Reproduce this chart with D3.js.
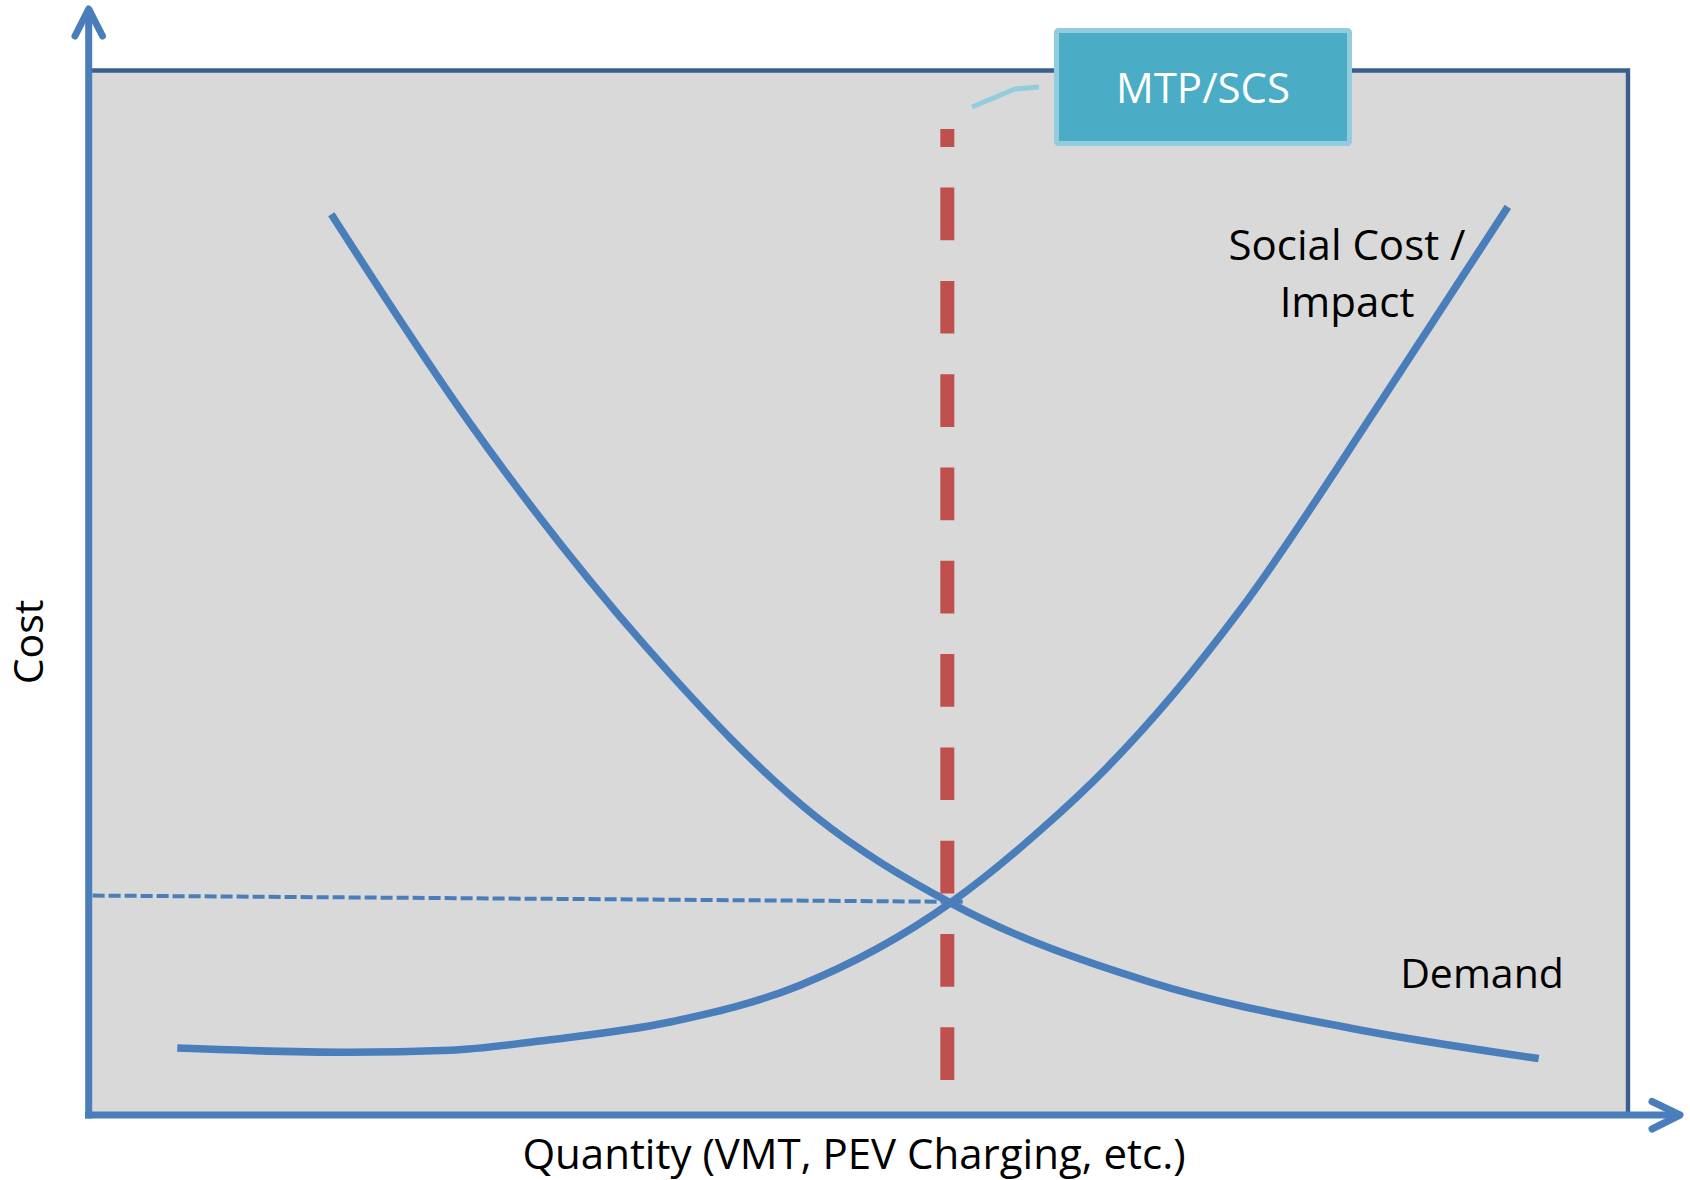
<!DOCTYPE html>
<html>
    <head>
        <script src="https://d3js.org/d3.v7.min.js"></script>
        <style type="text/css">
            html, body {
                margin: 0;
                padding: 0;
                background: #fff;
            }
            svg text {
                font-family: "Open Sans", "Noto Sans", sans-serif;
            }
        </style>
    </head>
    <body>
        <div id="chart"></div>
        <script>
            // curve points (quantity 0-100, cost 0-100)
            var demandQ = [15.8, 24.8, 36.3, 47.3, 56.0, 69.0, 82.0, 94.2];
            var demandC = [86.2, 66.2, 44.7, 28.5, 20.3, 12.7, 8.3, 5.4];

            var socialQ = [5.8, 17.0, 23.5, 30.0, 37.8, 46.2, 56.0, 61.8, 66.2, 70.5, 74.8, 84.1, 92.2];
            var socialC = [6.4, 6.0, 6.2, 7.2, 8.9, 12.4, 20.3, 27.2, 33.3, 40.3, 48.3, 68.6, 86.9];

            // equilibrium markers
            var mtpQ = 55.8;
            var mtpC = [3.35, 94.35];
            var priceQ = [0.3, 56.8];
            var priceC = [21.0, 20.4];

            var labels = {
                x: "Quantity (VMT, PEV Charging, etc.)",
                y: "Cost",
                demand: "Demand",
                social: ["Social Cost /", "Impact"],
                box: "MTP/SCS"
            };

            var width = 1690, height = 1180;
            var blue = "#4a7ebb", darkBlue = "#3a5f8c", red = "#c0504d";

            var x = d3.scaleLinear().domain([0, 100]).range([88, 1628]);
            var y = d3.scaleLinear().domain([0, 100]).range([1115, 70]);

            var svg = d3.select("#chart").append("svg")
                .attr("width", width)
                .attr("height", height);

            // plot area
            svg.append("rect")
                .attr("x", x(0)).attr("y", y(100))
                .attr("width", x(100) - x(0)).attr("height", y(0) - y(100))
                .attr("fill", "#d9d9d9");

            // top and right border
            svg.append("path")
                .attr("d", "M" + x(0) + "," + (y(100) + 0.5) + "H" + x(100) + "V" + y(0))
                .attr("fill", "none")
                .attr("stroke", darkBlue)
                .attr("stroke-width", 4.4);

            var line = d3.line().x(function(d) { return d[0]; }).y(function(d) { return d[1]; });

            // axes with arrows
            svg.append("path")
                .attr("d", line([[x(0) + 0.7, y(0) + 3.5], [x(0) + 0.7, 8]]))
                .attr("stroke", blue).attr("stroke-width", 7).attr("fill", "none");
            svg.append("path")
                .attr("d", line([[75, 36], [x(0) + 0.7, 9], [102.5, 36]]))
                .attr("stroke", blue).attr("stroke-width", 7).attr("fill", "none")
                .attr("stroke-linecap", "round").attr("stroke-linejoin", "round");

            svg.append("path")
                .attr("d", line([[x(0) - 3, y(0)], [1680, y(0)]]))
                .attr("stroke", blue).attr("stroke-width", 7).attr("fill", "none");
            svg.append("path")
                .attr("d", line([[1652, 1101.5], [1680, y(0)], [1652, 1129]]))
                .attr("stroke", blue).attr("stroke-width", 7).attr("fill", "none")
                .attr("stroke-linecap", "round").attr("stroke-linejoin", "round");

            // dashed price line
            svg.append("path")
                .attr("d", line(priceQ.map(function(q, i) { return [x(q), y(priceC[i])]; })))
                .attr("stroke", blue)
                .attr("stroke-width", 4)
                .attr("stroke-dasharray", "12 4")
                .attr("fill", "none");

            var curve = d3.line()
                .x(function(d) { return x(d.q); })
                .y(function(d) { return y(d.c); })
                .curve(d3.curveMonotoneX);

            var demand = demandQ.map(function(q, i) { return {q: q, c: demandC[i]}; });
            var social = socialQ.map(function(q, i) { return {q: q, c: socialC[i]}; });

            svg.selectAll(".curve")
                .data([demand, social])
                .enter()
                .append("path")
                .attr("class", "curve")
                .attr("d", curve)
                .attr("fill", "none")
                .attr("stroke", blue)
                .attr("stroke-width", 7.5);

            // MTP/SCS red dashed line, dashes start from the bottom
            svg.append("path")
                .attr("d", line([[x(mtpQ), y(mtpC[0])], [x(mtpQ), y(mtpC[1])]]))
                .attr("stroke", red)
                .attr("stroke-width", 14)
                .attr("stroke-dasharray", "52.7 40.6")
                .attr("fill", "none");

            // callout box
            svg.append("path")
                .attr("d", line([[972, 107], [1015, 89], [1039, 87]]))
                .attr("stroke", "#93cddd")
                .attr("stroke-width", 5)
                .attr("fill", "none");

            svg.append("rect")
                .attr("x", 1056.5).attr("y", 30.5)
                .attr("width", 293).attr("height", 113)
                .attr("rx", 2)
                .attr("fill", "#4bacc6")
                .attr("stroke", "#93cddd")
                .attr("stroke-width", 5);

            svg.append("text")
                .attr("x", 1203).attr("y", 103)
                .attr("text-anchor", "middle")
                .attr("font-size", 42)
                .attr("fill", "#fff")
                .text(labels.box);

            // curve labels
            svg.selectAll(".social")
                .data(labels.social)
                .enter()
                .append("text")
                .attr("class", "social")
                .attr("x", 1347)
                .attr("y", function(d, i) { return 260 + i * 57; })
                .attr("text-anchor", "middle")
                .attr("font-size", 42)
                .attr("fill", "#000")
                .text(function(d) { return d; });

            svg.append("text")
                .attr("x", 1482).attr("y", 988)
                .attr("text-anchor", "middle")
                .attr("font-size", 41)
                .attr("fill", "#000")
                .text(labels.demand);

            // axis titles
            svg.append("text")
                .attr("x", 854).attr("y", 1169)
                .attr("text-anchor", "middle")
                .attr("font-size", 42)
                .attr("fill", "#000")
                .text(labels.x);

            svg.append("text")
                .attr("transform", "translate(43,642) rotate(-90)")
                .attr("text-anchor", "middle")
                .attr("font-size", 41)
                .attr("fill", "#000")
                .text(labels.y);
        </script>
    </body>
</html>
